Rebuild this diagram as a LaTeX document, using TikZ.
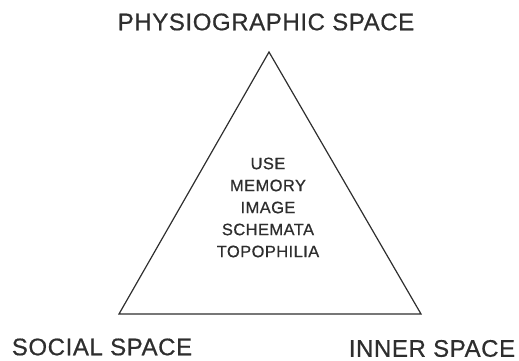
\documentclass[tikz,border=0pt]{standalone}
\usepackage{fontspec}
\setmainfont{Liberation Sans}
\newfontfamily\labfont[FakeBold=0.6,LetterSpace=2.5]{Liberation Sans}
\newfontfamily\midfont[FakeBold=0.6,LetterSpace=2.5]{Liberation Sans}
\definecolor{ink}{HTML}{2E2E2E}
\begin{document}
\begin{tikzpicture}[x=1pt,y=1pt,
  biglabel/.style={font=\labfont\fontsize{24}{26}\selectfont, text=ink, inner sep=0pt},
  centertext/.style={font=\midfont\fontsize{16.5}{22}\selectfont, text=ink, align=center, inner sep=0pt},
  edge/.style={draw=ink, line width=1.2pt, line join=miter}]
\useasboundingbox (0,0) rectangle (519,361);
\coordinate (apex) at (269,309);
\coordinate (bl) at (119,47);
\coordinate (br) at (421,47);
\draw[edge] (apex) -- (br) -- (bl) -- cycle;
\node[biglabel] (phys) at (266,339) {PHYSIOGRAPHIC SPACE};
\node[biglabel] (social) at (102,14) {SOCIAL SPACE};
\node[biglabel] (inner) at (432,12.5) {INNER SPACE};
\node[centertext] (mid) at (268,153.5) {USE\\MEMORY\\IMAGE\\SCHEMATA\\TOPOPHILIA};
\end{tikzpicture}
\end{document}
